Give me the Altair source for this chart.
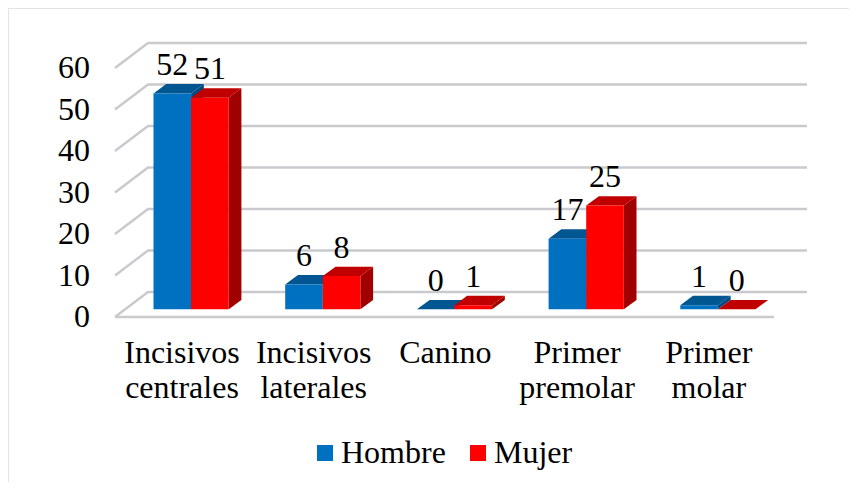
import altair as alt
import pandas as pd

categorias = [["Incisivos", "centrales"], ["Incisivos", "laterales"], ["Canino"], ["Primer", "premolar"], ["Primer", "molar"]]
hombre = [52, 6, 0, 17, 1]
mujer = [51, 8, 1, 25, 0]
ticks = [0, 10, 20, 30, 40, 50, 60]
series = ["Hombre", "Mujer"]

W, H = 841, 474
PX_U, PX_V = 131.7, 4.15
X0, Y0 = 153.5, 309.3          # page pixel of first bar / zero line


def U(px):
    return (px - X0) / PX_U


def V(py):
    return (Y0 - py) / PX_V


xs = alt.Scale(domain=[U(8), U(8 + W)], range=[0, W], nice=False, zero=False)
ys = alt.Scale(domain=[V(8 + H), V(8)], range=[H, 0], nice=False, zero=False)
FONT = "Liberation Serif"
FS = 32

BAR_W = 37.6 / PX_U
BAR_DX, BAR_DY = 12.7 / PX_U, 9.4 / PX_V
WALL_L, WALL_B = U(115), V(317)
WALL_DX, WALL_DY = 33 / PX_U, 25 / PX_V
WALL_R, FLOOR_R = U(807), U(774)


def X(f, **k):
    return alt.X(f, type="quantitative", scale=xs, axis=None, **k)


def Y(f, **k):
    return alt.Y(f, type="quantitative", scale=ys, axis=None, **k)


# grid
grid = []
for t in ticks:
    b = WALL_B + t
    grid += [
        dict(id=t, x=WALL_L, y=b),
        dict(id=t, x=WALL_L + WALL_DX, y=b + WALL_DY),
        dict(id=t, x=WALL_R, y=b + WALL_DY),
    ]
grid += [dict(id=-1, x=WALL_L, y=WALL_B), dict(id=-1, x=FLOOR_R, y=WALL_B)]
gridc = (
    alt.Chart(pd.DataFrame(grid))
    .mark_line(color="#c9cacd", strokeWidth=2.4, interpolate="linear")
    .encode(X("x"), Y("y"), detail="id:N", order="o:O")
    .transform_window(o="row_number()", groupby=["id"])
)


def faces(vals, slot, front, top, side, name):
    side_rows, top_rows, front_rows = [], [], []
    for k, v in enumerate(vals):
        l = k + slot * BAR_W
        r = l + BAR_W
        side_rows += [
            dict(id=k, x=r, y=v, y2=0),
            dict(id=k, x=r + BAR_DX, y=v + BAR_DY, y2=BAR_DY),
        ]
        top_rows += [
            dict(id=k, y=v, x=l, x2=r),
            dict(id=k, y=v + BAR_DY, x=l + BAR_DX, x2=r + BAR_DX),
        ]
        front_rows.append(dict(x=l, x2=r, y=v, y2=0, s=name))
    s = alt.Chart(pd.DataFrame(side_rows)).mark_area(orient="vertical", color=side).encode(
        X("x"), Y("y"), y2="y2:Q", detail="id:N"
    )
    t = alt.Chart(pd.DataFrame(top_rows)).mark_area(orient="horizontal", color=top).encode(
        X("x"), x2="x2:Q", y=Y("y"), detail="id:N"
    )
    f = alt.Chart(pd.DataFrame(front_rows)).mark_rect().encode(
        X("x"),
        x2="x2:Q",
        y=Y("y"),
        y2="y2:Q",
        color=alt.Color(
            "s:N",
            scale=alt.Scale(domain=series, range=["#0070C0", "#FF0000"]),
            legend=alt.Legend(
                title=None,
                orient="none",
                legendX=301,
                legendY=429,
                direction="horizontal",
                columns=2,
                symbolType="square",
                symbolSize=256,
                symbolStrokeWidth=0,
                symbolOpacity=1,
                labelFont=FONT,
                labelFontSize=FS,
                labelColor="black",
                labelOffset=0,
                columnPadding=16,
                padding=0,
                labelLimit=300,
            ),
        ),
    )
    return [s, t, f]


bars = faces(hombre, 0, "#0070C0", "#005690", "#004C80", "Hombre") + faces(
    mujer, 1, "#FF0000", "#C00000", "#A00000", "Mujer"
)

# value labels
val_rows = []
for k in range(5):
    val_rows.append(dict(x=k + 0.5 * BAR_W, y=hombre[k], t=str(hombre[k])))
    val_rows.append(dict(x=k + 1.5 * BAR_W, y=mujer[k], t=str(mujer[k])))
vals = alt.Chart(pd.DataFrame(val_rows)).mark_text(
    font=FONT, fontSize=FS, color="black", baseline="alphabetic", align="center", dy=-18.5
).encode(X("x"), Y("y"), text="t:N")

# y tick labels
tick_rows = [dict(x=U(90), y=WALL_B + t, t=str(t)) for t in ticks]
ticktxt = alt.Chart(pd.DataFrame(tick_rows)).mark_text(
    font=FONT, fontSize=FS, color="black", baseline="middle", align="right", dy=0
).encode(X("x"), Y("y"), text="t:N")

# category labels
cat_rows = []
for k, lines in enumerate(categorias):
    for i, s in enumerate(lines):
        cat_rows.append(dict(x=k + U(182), y=V(363 + 35 * i), t=s))
cats = alt.Chart(pd.DataFrame(cat_rows)).mark_text(
    font=FONT, fontSize=FS, color="black", baseline="alphabetic", align="center"
).encode(X("x"), Y("y"), text="t:N")

# chart border, visible on the left and the top only
border_v = alt.Chart(pd.DataFrame({"a": [0]})).mark_rule(color="#e2e3ea", strokeWidth=2).encode(
    x=alt.value(0), y=alt.value(0), y2=alt.value(H)
)
border_h = alt.Chart(pd.DataFrame({"a": [0]})).mark_rule(color="#e2e3ea", strokeWidth=2).encode(
    y=alt.value(0), x=alt.value(0), x2=alt.value(W)
)

chart = (
    alt.layer(border_v, border_h, gridc, *bars, vals, ticktxt, cats)
    .properties(width=W, height=H, padding=0, background="white",
                autosize=alt.AutoSizeParams(type="none"))
    .configure_view(stroke=None)
)
chart.save("out.html", embed_options={"renderer": "svg", "actions": False})
